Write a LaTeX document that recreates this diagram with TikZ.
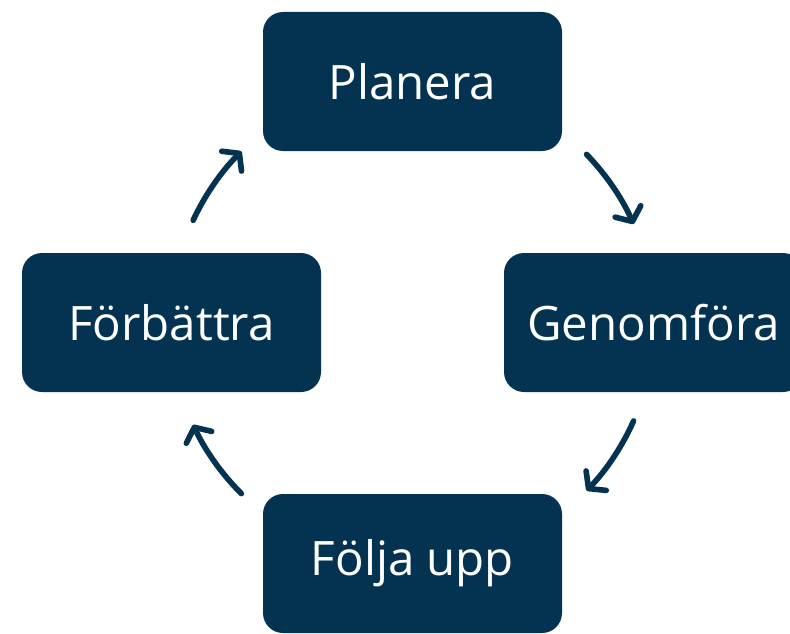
\documentclass[tikz,border=0pt]{standalone}
\usepackage{fontspec}
\setmainfont{Open Sans}
\usepackage{tikz}
\usetikzlibrary{arrows.meta, positioning, calc}

\definecolor{navyblue}{RGB}{3,51,80}

\tikzset{
  step box/.style={rectangle, rounded corners=0.4cm, fill=navyblue, text=white,
    minimum width=5.98cm, minimum height=2.78cm, inner sep=0pt,
    font=\fontsize{27}{32}\selectfont},
  cycle arrow/.style={draw=navyblue, line width=3.2pt, line cap=round,
    -{Straight Barb[length=2.2mm, width=5.6mm, line cap=round, line join=round]}}
}

\begin{document}
\begin{tikzpicture}[node distance=4.82cm and 4.82cm, on grid]
            \useasboundingbox (0,0) rectangle (15.8,12.66);
            \node[step box] (plan) at (8.25,11.03) {Planera};
            \node[step box] (genom) [below right = of plan] {Genomföra};
            \node[step box] (folj) [below left = of genom] {Följa upp};
            \node[step box] (forb) [above left = of folj] {Förbättra};
            \coordinate (mid) at ($(plan)!0.5!(folj)$);

            \draw[cycle arrow] ([shift={(44:4.84)}]mid) arc[start angle=44, end angle=24, radius=4.84cm];
            \draw[cycle arrow] ([shift={(-24:4.84)}]mid) arc[start angle=-24, end angle=-44, radius=4.84cm];
            \draw[cycle arrow] ([shift={(-135:4.84)}]mid) arc[start angle=-135, end angle=-155, radius=4.84cm];
            \draw[cycle arrow] ([shift={(155:4.84)}]mid) arc[start angle=155, end angle=135, radius=4.84cm];
        \end{tikzpicture}
\end{document}
